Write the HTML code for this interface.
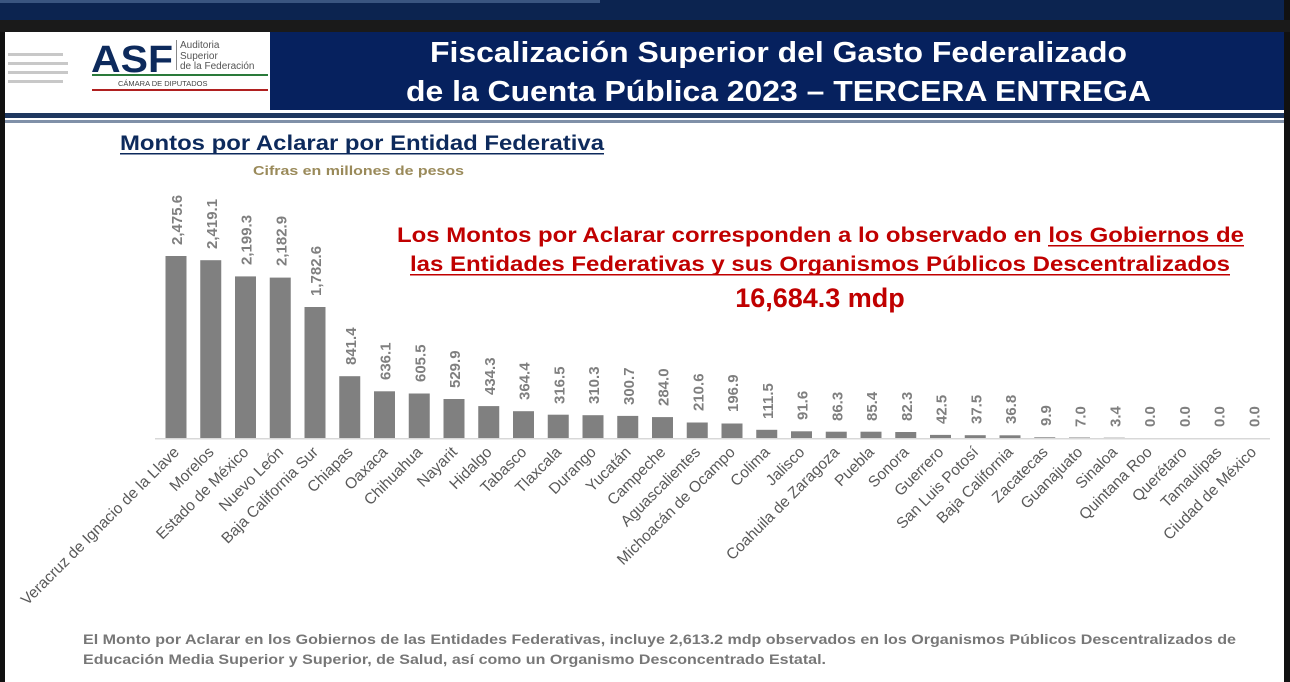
<!DOCTYPE html>
<html><head><meta charset="utf-8"><style>
html,body{margin:0;padding:0;background:#000;}
svg{display:block;font-family:"Liberation Sans",Arial,sans-serif;}
</style></head><body>
<svg width="1290" height="682" viewBox="0 0 1290 682" xmlns="http://www.w3.org/2000/svg">
<rect x="0" y="0" width="1290" height="682" fill="#111"/>
<rect x="0" y="0" width="1284" height="20" fill="#0c2450"/>
<rect x="0" y="0" width="600" height="3" fill="#3a5580"/>
<rect x="0" y="20" width="1290" height="12" fill="#1a1a1a"/>
<rect x="5" y="32" width="1279" height="650" fill="#fff"/>
<rect x="270" y="32" width="1014" height="78" fill="#06215e"/>
<rect x="5" y="110" width="1279" height="3" fill="#fff"/>
<rect x="5" y="113" width="1279" height="5" fill="#1f3860"/>
<rect x="5" y="118" width="1279" height="2" fill="#fff"/>
<rect x="5" y="120" width="1279" height="3" fill="#8090a8"/>
<g fill="#c8c8c8">
<rect x="8" y="53" width="55" height="3"/><rect x="8" y="62" width="60" height="3"/><rect x="8" y="71" width="60" height="3"/><rect x="8" y="80" width="55" height="3"/>
</g>
<text x="91" y="72" font-size="38" font-weight="bold" fill="#0d2a5c" textLength="82" lengthAdjust="spacingAndGlyphs">ASF</text>
<rect x="176" y="40" width="1" height="30" fill="#888"/>
<text x="180" y="48" font-size="10" fill="#555">Auditoria</text>
<text x="180" y="59" font-size="10" fill="#555">Superior</text>
<text x="180" y="69" font-size="10" fill="#555">de la Federación</text>
<rect x="92" y="74" width="176" height="2" fill="#2a7a3a"/>
<text x="118" y="86" font-size="7.5" fill="#444">CÁMARA DE DIPUTADOS</text>
<rect x="92" y="89" width="176" height="2" fill="#b02020"/>
<text x="430" y="62" font-size="29" font-weight="bold" fill="#fff" textLength="697" lengthAdjust="spacingAndGlyphs">Fiscalización Superior del Gasto Federalizado</text>
<text x="406" y="101" font-size="29" font-weight="bold" fill="#fff" textLength="745" lengthAdjust="spacingAndGlyphs">de la Cuenta Pública 2023 – TERCERA ENTREGA</text>
<text x="120" y="150" font-size="21" font-weight="bold" fill="#0d2a5c" textLength="484" lengthAdjust="spacingAndGlyphs">Montos por Aclarar por Entidad Federativa</text>
<rect x="120" y="153" width="484" height="1.5" fill="#0d2a5c"/>
<text x="253" y="175" font-size="13" font-weight="bold" fill="#9a8a5a" textLength="211" lengthAdjust="spacingAndGlyphs">Cifras en millones de pesos</text>
<text x="397" y="242" font-size="21" font-weight="bold" fill="#c00000" textLength="847" lengthAdjust="spacingAndGlyphs">Los Montos por Aclarar corresponden a lo observado en los Gobiernos de</text>
<rect x="1048" y="245" width="196" height="1.5" fill="#c00000"/>
<text x="410" y="271" font-size="21" font-weight="bold" fill="#c00000" textLength="820" lengthAdjust="spacingAndGlyphs">las Entidades Federativas y sus Organismos Públicos Descentralizados</text>
<rect x="410" y="274" width="820" height="1.5" fill="#c00000"/>
<text x="820" y="307" font-size="27" font-weight="bold" fill="#c00000" text-anchor="middle">16,684.3 mdp</text>
<rect x="155" y="438" width="1115" height="1.5" fill="#d8d8d8"/>
<g fill="#808080">
<rect x="165.5" y="256" width="21" height="182"/>
<rect x="200.25" y="260.2" width="21" height="177.8"/>
<rect x="235" y="276.4" width="21" height="161.6"/>
<rect x="269.75" y="277.6" width="21" height="160.4"/>
<rect x="304.5" y="307" width="21" height="131"/>
<rect x="339.25" y="376.2" width="21" height="61.8"/>
<rect x="374" y="391.3" width="21" height="46.7"/>
<rect x="408.75" y="393.5" width="21" height="44.5"/>
<rect x="443.5" y="399" width="21" height="39"/>
<rect x="478.25" y="406.1" width="21" height="31.9"/>
<rect x="513" y="411.2" width="21" height="26.8"/>
<rect x="547.75" y="414.7" width="21" height="23.3"/>
<rect x="582.5" y="415.2" width="21" height="22.8"/>
<rect x="617.25" y="415.9" width="21" height="22.1"/>
<rect x="652" y="417.1" width="21" height="20.9"/>
<rect x="686.75" y="422.5" width="21" height="15.5"/>
<rect x="721.5" y="423.5" width="21" height="14.5"/>
<rect x="756.25" y="429.8" width="21" height="8.2"/>
<rect x="791" y="431.3" width="21" height="6.7"/>
<rect x="825.75" y="431.7" width="21" height="6.3"/>
<rect x="860.5" y="431.7" width="21" height="6.3"/>
<rect x="895.25" y="432" width="21" height="6"/>
<rect x="930" y="434.9" width="21" height="3.1"/>
<rect x="964.75" y="435.2" width="21" height="2.8"/>
<rect x="999.5" y="435.3" width="21" height="2.7"/>
<rect x="1034.25" y="437.3" width="21" height="0.7"/>
<rect x="1069" y="437.5" width="21" height="0.5"/>
<rect x="1103.75" y="437.7" width="21" height="0.3"/>
</g>
<g font-size="15" font-weight="bold" fill="#7f7f7f">
<text transform="translate(182,245) rotate(-90)">2,475.6</text>
<text transform="translate(216.75,249) rotate(-90)">2,419.1</text>
<text transform="translate(251.5,265) rotate(-90)">2,199.3</text>
<text transform="translate(286.25,266) rotate(-90)">2,182.9</text>
<text transform="translate(321,296) rotate(-90)">1,782.6</text>
<text transform="translate(355.75,365) rotate(-90)">841.4</text>
<text transform="translate(390.5,380) rotate(-90)">636.1</text>
<text transform="translate(425.25,382) rotate(-90)">605.5</text>
<text transform="translate(460,388) rotate(-90)">529.9</text>
<text transform="translate(494.75,395) rotate(-90)">434.3</text>
<text transform="translate(529.5,400) rotate(-90)">364.4</text>
<text transform="translate(564.25,404) rotate(-90)">316.5</text>
<text transform="translate(599,404) rotate(-90)">310.3</text>
<text transform="translate(633.75,405) rotate(-90)">300.7</text>
<text transform="translate(668.5,406) rotate(-90)">284.0</text>
<text transform="translate(703.25,411) rotate(-90)">210.6</text>
<text transform="translate(738,412) rotate(-90)">196.9</text>
<text transform="translate(772.75,419) rotate(-90)">111.5</text>
<text transform="translate(807.5,420) rotate(-90)">91.6</text>
<text transform="translate(842.25,421) rotate(-90)">86.3</text>
<text transform="translate(877,421) rotate(-90)">85.4</text>
<text transform="translate(911.75,421) rotate(-90)">82.3</text>
<text transform="translate(946.5,424) rotate(-90)">42.5</text>
<text transform="translate(981.25,424) rotate(-90)">37.5</text>
<text transform="translate(1016,424) rotate(-90)">36.8</text>
<text transform="translate(1050.75,426) rotate(-90)">9.9</text>
<text transform="translate(1085.5,427) rotate(-90)">7.0</text>
<text transform="translate(1120.25,427) rotate(-90)">3.4</text>
<text transform="translate(1155,427) rotate(-90)">0.0</text>
<text transform="translate(1189.75,427) rotate(-90)">0.0</text>
<text transform="translate(1224.5,427) rotate(-90)">0.0</text>
<text transform="translate(1259.25,427) rotate(-90)">0.0</text>
</g>
<g font-size="15.5" fill="#595959" text-anchor="end">
<text transform="translate(180,453) rotate(-45)">Veracruz de Ignacio de la Llave</text>
<text transform="translate(214.75,453) rotate(-45)">Morelos</text>
<text transform="translate(249.5,453) rotate(-45)">Estado de México</text>
<text transform="translate(284.25,453) rotate(-45)">Nuevo León</text>
<text transform="translate(319,453) rotate(-45)">Baja California Sur</text>
<text transform="translate(353.75,453) rotate(-45)">Chiapas</text>
<text transform="translate(388.5,453) rotate(-45)">Oaxaca</text>
<text transform="translate(423.25,453) rotate(-45)">Chihuahua</text>
<text transform="translate(458,453) rotate(-45)">Nayarit</text>
<text transform="translate(492.75,453) rotate(-45)">Hidalgo</text>
<text transform="translate(527.5,453) rotate(-45)">Tabasco</text>
<text transform="translate(562.25,453) rotate(-45)">Tlaxcala</text>
<text transform="translate(597,453) rotate(-45)">Durango</text>
<text transform="translate(631.75,453) rotate(-45)">Yucatán</text>
<text transform="translate(666.5,453) rotate(-45)">Campeche</text>
<text transform="translate(701.25,453) rotate(-45)">Aguascalientes</text>
<text transform="translate(736,453) rotate(-45)">Michoacán de Ocampo</text>
<text transform="translate(770.75,453) rotate(-45)">Colima</text>
<text transform="translate(805.5,453) rotate(-45)">Jalisco</text>
<text transform="translate(840.25,453) rotate(-45)">Coahuila de Zaragoza</text>
<text transform="translate(875,453) rotate(-45)">Puebla</text>
<text transform="translate(909.75,453) rotate(-45)">Sonora</text>
<text transform="translate(944.5,453) rotate(-45)">Guerrero</text>
<text transform="translate(979.25,453) rotate(-45)">San Luis Potosí</text>
<text transform="translate(1014,453) rotate(-45)">Baja California</text>
<text transform="translate(1048.75,453) rotate(-45)">Zacatecas</text>
<text transform="translate(1083.5,453) rotate(-45)">Guanajuato</text>
<text transform="translate(1118.25,453) rotate(-45)">Sinaloa</text>
<text transform="translate(1153,453) rotate(-45)">Quintana Roo</text>
<text transform="translate(1187.75,453) rotate(-45)">Querétaro</text>
<text transform="translate(1222.5,453) rotate(-45)">Tamaulipas</text>
<text transform="translate(1257.25,453) rotate(-45)">Ciudad de México</text>
</g>
<text x="83" y="644" font-size="14" font-weight="bold" fill="#777" textLength="1153" lengthAdjust="spacingAndGlyphs">El Monto por Aclarar en los Gobiernos de las Entidades Federativas, incluye 2,613.2 mdp observados en los Organismos Públicos Descentralizados de</text>
<text x="83" y="664" font-size="14" font-weight="bold" fill="#777" textLength="743" lengthAdjust="spacingAndGlyphs">Educación Media Superior y Superior, de Salud, así como un Organismo Desconcentrado Estatal.</text>
</svg>
</body></html>
